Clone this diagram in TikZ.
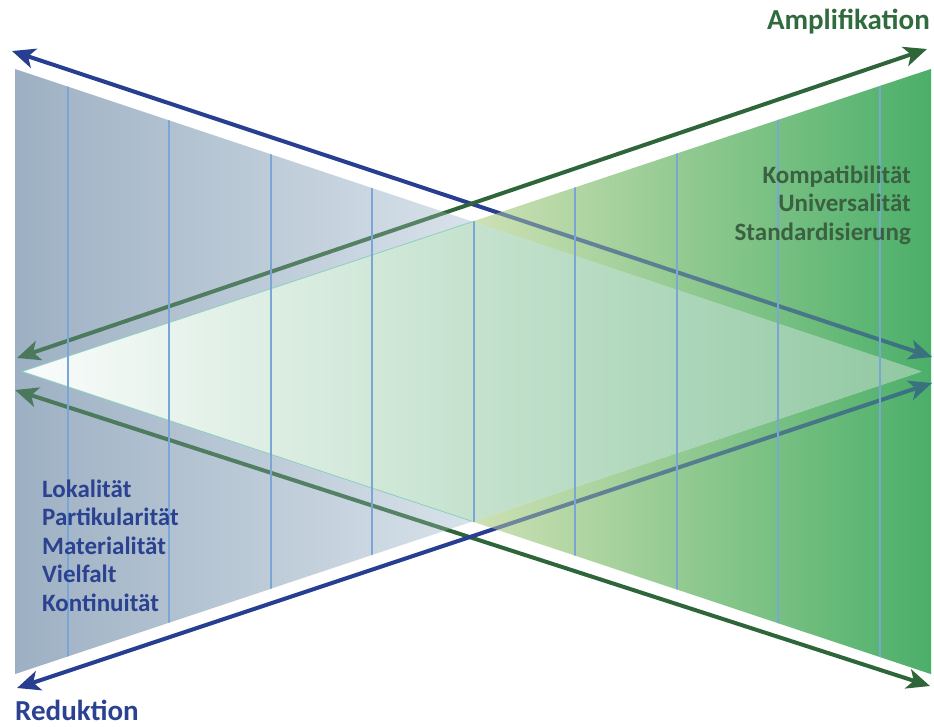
\documentclass[tikz,border=0pt]{standalone}
\usepackage{fontspec}
\setmainfont{Carlito}
\usetikzlibrary{arrows.meta}
\definecolor{arrblue}{HTML}{283F91}
\definecolor{arrgreen}{HTML}{2E663A}
\definecolor{txtblue}{HTML}{2B4290}
\definecolor{txtgreen}{HTML}{2F6B3C}
\definecolor{txtgreenb}{HTML}{3A6141}
\definecolor{bL}{HTML}{9DB0C3}
\definecolor{bR}{HTML}{D8E2EA}
\definecolor{gL}{HTML}{CFE1B4}
\definecolor{gR}{HTML}{4BAF69}
\definecolor{dL}{HTML}{FAFCFC}
\definecolor{dR}{HTML}{90C8A1}
\definecolor{vlinec}{HTML}{7AA6D6}
\definecolor{edgec}{HTML}{8CCFC0}
\tikzset{
  arr/.style={line width=4pt, {Stealth[length=23pt,width=20pt,inset=6pt]}-{Stealth[length=23pt,width=20pt,inset=6pt]}},
  vln/.style={draw=vlinec, line width=1.5pt},
  edgeline/.style={draw=edgec, line width=0.8pt},
  bigtitle/.style={font=\fontsize{29}{31}\selectfont\bfseries, inner sep=0pt},
  listtext/.style={font=\fontsize{25}{28}\selectfont\bfseries, inner sep=0pt}
}
\begin{document}
\begin{tikzpicture}[x=1pt,y=-1pt]
\useasboundingbox (0,0) rectangle (934,726);
\coordinate (bltop) at (15,69);
\coordinate (blbot) at (15,674);
\coordinate (bapex) at (922,371.5);
\coordinate (grtop) at (931,69);
\coordinate (grbot) at (931,674);
\coordinate (gapex) at (22,371.5);
\coordinate (xtop) at (intersection of bltop--bapex and grtop--gapex);
\coordinate (xbot) at (intersection of blbot--bapex and grbot--gapex);
% base regions
\begin{scope}
  \clip (bltop) -- (xtop) -- (gapex) -- (xbot) -- (blbot) -- cycle;
  \shade[left color=bL, right color=bR] (15,0) rectangle (474,726);
\end{scope}
\begin{scope}
  \clip (grtop) -- (xtop) -- (bapex) -- (xbot) -- (grbot) -- cycle;
  \shade[left color=gL, right color=gR] (472,0) rectangle (931,726);
\end{scope}
\begin{scope}
  \clip (gapex) -- (xtop) -- (bapex) -- (xbot) -- cycle;
  \shade[left color=dL, right color=dR] (22,0) rectangle (922,726);
\end{scope}
% arrows
\coordinate (a1l) at (12,51);   \coordinate (a1r) at (932,357);
\coordinate (a2l) at (17,358);  \coordinate (a2r) at (927,49);
\coordinate (a3l) at (15,390);  \coordinate (a3r) at (930,686);
\coordinate (a4l) at (17,688);  \coordinate (a4r) at (932,383);
\draw[arr, arrblue] (a1l) -- (a1r);
\draw[arr, arrgreen] (a2l) -- (a2r);
\draw[arr, arrgreen] (a3l) -- (a3r);
\draw[arr, arrblue] (a4l) -- (a4r);
% translucent overlay of regions over arrows
\begin{scope}[opacity=0.25]
  \clip (bltop) -- (xtop) -- (gapex) -- (xbot) -- (blbot) -- cycle;
  \shade[left color=bL, right color=bR] (15,0) rectangle (474,726);
\end{scope}
\begin{scope}[opacity=0.45]
  \clip (grtop) -- (xtop) -- (bapex) -- (xbot) -- (grbot) -- cycle;
  \shade[left color=gL, right color=gR] (472,0) rectangle (931,726);
\end{scope}
\draw[edgeline] (xtop) -- (gapex) -- (xbot);
% vertical lines
\begin{scope}
  \clip (bltop) -- (bapex) -- (blbot) -- cycle;
  \foreach \x in {68,169,271,372} \draw[vln] (\x,60) -- (\x,690);
\end{scope}
\begin{scope}
  \clip (grtop) -- (gapex) -- (grbot) -- cycle;
  \foreach \x in {474,575,677,778,880} \draw[vln] (\x,60) -- (\x,690);
\end{scope}
% texts
\node[bigtitle, text=txtgreen, anchor=base east] (ampl) at (930,29) {Amplifikation};
\node[bigtitle, text=txtblue, anchor=base west] (red) at (15,720) {Reduktion};
\node[listtext, text=txtgreenb, anchor=base east] (r1) at (911,183) {Kompatibilität};
\node[listtext, text=txtgreenb, anchor=base east] (r2) at (911,211.5) {Universalität};
\node[listtext, text=txtgreenb, anchor=base east] (r3) at (911,240) {Standardisierung};
\node[listtext, text=txtblue, anchor=base west] (l1) at (42,497) {Lokalität};
\node[listtext, text=txtblue, anchor=base west] (l2) at (42,525.5) {Partikularität};
\node[listtext, text=txtblue, anchor=base west] (l3) at (42,554) {Materialität};
\node[listtext, text=txtblue, anchor=base west] (l4) at (42,582.5) {Vielfalt};
\node[listtext, text=txtblue, anchor=base west] (l5) at (42,611) {Kontinuität};
\end{tikzpicture}
\end{document}
